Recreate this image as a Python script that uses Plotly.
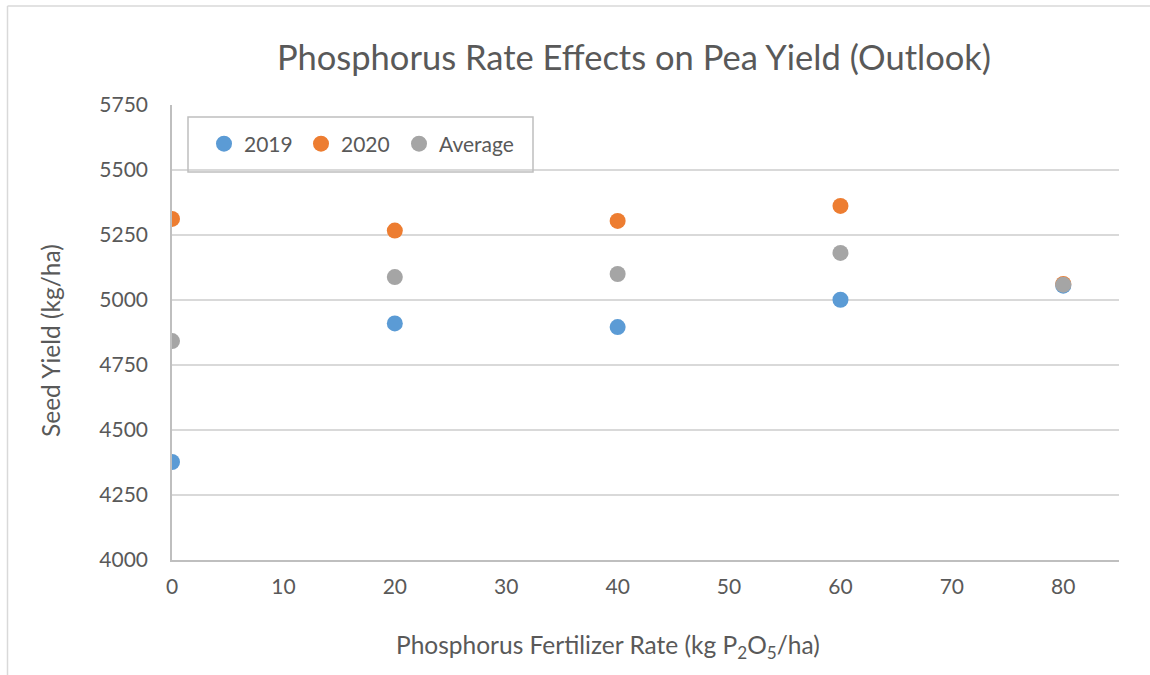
import plotly.graph_objects as go

rates = [0, 20, 40, 60, 80]
yield_2019 = [4377, 4910, 4896, 5001, 5055]
yield_2020 = [5312, 5267, 5304, 5362, 5062]
yield_avg = [4842, 5088, 5100, 5181, 5059]

series = [("2019", yield_2019, "#5B9BD5"),
          ("2020", yield_2020, "#ED7D31"),
          ("Average", yield_avg, "#A5A5A5")]

W, H = 1150, 675
ML, MR, MT, MB = 172, 31, 105, 115
PW, PH = W - ML - MR, H - MT - MB

def px_x(p):
    return (p - ML) / PW

def px_y(p):
    return (H - MB - p) / PH

FONT = "Lato, 'Open Sans', sans-serif"
TXT = "#595959"

legend_names = ["legend", "legend2", "legend3"]
legend_starts = [204, 301, 399]

fig = go.Figure()
for (name, vals, col), lg in zip(series, legend_names):
    fig.add_trace(go.Scatter(x=rates, y=vals, mode="markers", name=name,
                             legend=lg,
                             marker=dict(color=col, size=16, line=dict(width=0))))

legend_layout = {}
for lg, xs in zip(legend_names, legend_starts):
    legend_layout[lg] = dict(orientation="h", x=px_x(xs), xanchor="left",
                             y=px_y(144), yanchor="middle",
                             bgcolor="rgba(0,0,0,0)", borderwidth=0,
                             font=dict(size=21, color=TXT), itemwidth=30)

fig.update_layout(
    width=W, height=H,
    margin=dict(l=ML, r=MR, t=MT, b=MB, autoexpand=False),
    paper_bgcolor="white", plot_bgcolor="white",
    font=dict(family=FONT, color=TXT, size=21),
    title=dict(text="Phosphorus Rate Effects on Pea Yield (Outlook)",
               font=dict(family=FONT, size=34.5, color=TXT),
               x=px_x(634), xref="paper", xanchor="center",
               y=1 - 58 / H, yref="container", yanchor="middle"),
    xaxis=dict(range=[0, 85], tickmode="linear", tick0=0, dtick=10,
               showgrid=False, zeroline=False, showline=True,
               linecolor="#BFBFBF", linewidth=1.5, ticks="",
               ticklabelstandoff=7, tickfont=dict(size=21, color=TXT)),
    yaxis=dict(range=[4000, 5750], tickmode="linear", tick0=4000, dtick=250,
               showgrid=True, gridcolor="#D9D9D9", gridwidth=1.5,
               zeroline=False, showline=True, linecolor="#BFBFBF", linewidth=1.5,
               ticks="", ticklabelstandoff=18, tickfont=dict(size=21, color=TXT)),
    showlegend=True,
    shapes=[
        dict(type="rect", xref="paper", yref="paper",
             x0=px_x(188), x1=px_x(533), y0=px_y(172), y1=px_y(117),
             line=dict(color="#BFBFBF", width=1.5), fillcolor="rgba(0,0,0,0)"),
        dict(type="line", xref="paper", yref="paper",
             x0=px_x(7.5), x1=px_x(1150), y0=px_y(6), y1=px_y(6),
             line=dict(color="#D9D9D9", width=1.5)),
        dict(type="line", xref="paper", yref="paper",
             x0=px_x(7.5), x1=px_x(7.5), y0=px_y(6), y1=px_y(675),
             line=dict(color="#D9D9D9", width=1.5)),
    ],
    annotations=[
        dict(text="Phosphorus Fertilizer Rate (kg P<sub>2</sub>O<sub>5</sub>/ha)",
             xref="paper", yref="paper", x=px_x(608), y=px_y(646),
             xanchor="center", yanchor="middle", showarrow=False,
             font=dict(size=24.5, color=TXT)),
        dict(text="Seed Yield (kg/ha)", textangle=-90,
             xref="paper", yref="paper", x=px_x(50), y=px_y(341),
             xanchor="center", yanchor="middle", showarrow=False,
             font=dict(size=24.5, color=TXT)),
    ],
)
fig.update_layout(**legend_layout)

fig.write_html("out.html",
               config={"displayModeBar": False},
               post_script="document.body.style.margin='0';document.body.style.padding='0';")
